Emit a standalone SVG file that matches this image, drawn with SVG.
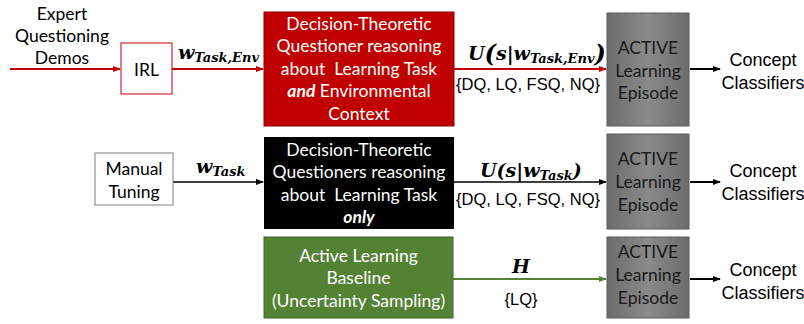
<svg xmlns="http://www.w3.org/2000/svg" width="804" height="324" viewBox="0 0 804 324">
<defs>
<marker id="ar" markerWidth="8" markerHeight="6" refX="7" refY="3" orient="auto" markerUnits="userSpaceOnUse"><path d="M0,0 L8,3 L0,6 z" fill="#c00000"/></marker>
<marker id="ak" markerWidth="8" markerHeight="6" refX="7" refY="3" orient="auto" markerUnits="userSpaceOnUse"><path d="M0,0 L8,3 L0,6 z" fill="#000"/></marker>
<marker id="ag" markerWidth="8" markerHeight="6" refX="7" refY="3" orient="auto" markerUnits="userSpaceOnUse"><path d="M0,0 L8,3 L0,6 z" fill="#548235"/></marker>
<linearGradient id="gg" x1="0" y1="0" x2="1" y2="0">
<stop offset="0" stop-color="#6c6c6c"/><stop offset="0.5" stop-color="#8a8a8a"/><stop offset="1" stop-color="#6c6c6c"/>
</linearGradient>
</defs>
<style>
.bt{font-family:Lato,"Open Sans",sans-serif;font-size:17.5px;fill:#fff;text-anchor:middle}
.gt{font-family:Lato,"Open Sans",sans-serif;font-size:17.5px;fill:#1a1a1a;text-anchor:middle}
.pt{font-family:Lato,"Open Sans",sans-serif;font-size:17.5px;fill:#000;text-anchor:middle}
.at{font-family:"Liberation Sans",Arial,sans-serif;font-size:18px;fill:#000;text-anchor:middle}
.st{font-family:"Liberation Sans",Arial,sans-serif;font-size:16.5px;fill:#000;text-anchor:middle}
.mt{font-family:"DejaVu Serif","Liberation Serif",serif;font-weight:bold;font-style:italic;fill:#000}
.gray{fill:url(#gg);stroke:#5a5a5a;stroke-width:1}
</style>

<g id="connectors" fill="none" stroke-width="2">
<line x1="10" y1="69" x2="120" y2="69" stroke="#c00000" marker-end="url(#ar)"/>
<line x1="172" y1="69" x2="263" y2="69" stroke="#c00000" marker-end="url(#ar)"/>
<line x1="454" y1="69" x2="606" y2="69" stroke="#c00000" marker-end="url(#ar)"/>
<line x1="690" y1="69" x2="720" y2="69" stroke="#000" marker-end="url(#ak)"/>
<line x1="173" y1="182" x2="263" y2="182" stroke="#000" stroke-width="1.5" marker-end="url(#ak)"/>
<line x1="454" y1="182" x2="606" y2="182" stroke="#000" stroke-width="1.5" marker-end="url(#ak)"/>
<line x1="690" y1="182" x2="720" y2="182" stroke="#000" marker-end="url(#ak)"/>
<line x1="453" y1="279" x2="606" y2="279" stroke="#548235" marker-end="url(#ag)"/>
<line x1="690" y1="279" x2="720" y2="279" stroke="#000" marker-end="url(#ak)"/>
</g>

<g id="edge-labels">
<text class="pt" x="62" y="20">Expert</text>
<text class="pt" x="62" y="42">Questioning</text>
<text class="pt" x="62" y="64">Demos</text>
<text class="mt" x="178" y="59" font-size="19">w<tspan font-size="13" dy="3">Task,Env</tspan></text>
<text class="mt" x="468" y="60" font-size="19">U<tspan font-size="24" dy="2">(</tspan><tspan dy="-2">s|w</tspan><tspan font-size="13" dy="3">Task,Env</tspan><tspan font-size="24" dy="-1">)</tspan></text>
<text class="st" x="528" y="90">{DQ, LQ, FSQ, NQ}</text>
<text class="mt" x="196" y="173" font-size="19">w<tspan font-size="13" dy="3">Task</tspan></text>
<text class="mt" x="480" y="177" font-size="19">U(s|w<tspan font-size="13" dy="3">Task</tspan><tspan dy="-3">)</tspan></text>
<text class="st" x="528" y="205">{DQ, LQ, FSQ, NQ}</text>
<text class="mt" x="521" y="273" font-size="19" text-anchor="middle">H</text>
<text class="st" x="521" y="305">{LQ}</text>
</g>

<g id="irl">
<rect x="121" y="43" width="51" height="51" fill="#fff" stroke="#c00000" stroke-width="1"/>
<text class="pt" x="146.5" y="76" font-size="20">IRL</text>
</g>

<g id="manual-tuning">
<rect x="95" y="153" width="78" height="52" fill="#fff" stroke="#7f7f7f" stroke-width="1"/>
<text class="pt" x="134" y="175" font-size="19">Manual</text>
<text class="pt" x="134" y="198" font-size="19">Tuning</text>
</g>

<g id="dtq-env">
<rect x="264" y="12" width="190" height="114" fill="#c00000" stroke="#8c0000" stroke-width="1"/>
<text class="bt" x="359" y="30">Decision-Theoretic</text>
<text class="bt" x="359" y="52">Questioner reasoning</text>
<text class="bt" x="359" y="75" xml:space="preserve">about  Learning Task</text>
<text class="bt" x="359" y="97"><tspan font-weight="bold" font-style="italic">and</tspan> Environmental</text>
<text class="bt" x="359" y="120">Context</text>
</g>

<g id="dtq-task">
<rect x="264" y="137" width="190" height="92" fill="#000"/>
<text class="bt" x="359" y="156">Decision-Theoretic</text>
<text class="bt" x="359" y="178">Questioners reasoning</text>
<text class="bt" x="359" y="201" xml:space="preserve">about  Learning Task</text>
<text class="bt" x="359" y="223" font-weight="bold" font-style="italic">only</text>
</g>

<g id="al-baseline">
<rect x="264" y="237" width="189" height="81" fill="#548235" stroke="#3f6328" stroke-width="1"/>
<text class="bt" x="358.5" y="262">Active Learning</text>
<text class="bt" x="358.5" y="284">Baseline</text>
<text class="bt" x="358.5" y="307">(Uncertainty Sampling)</text>
</g>

<g id="episode-1">
<rect class="gray" x="607" y="13" width="82" height="113"/>
<text class="gt" x="648" y="54">ACTIVE</text>
<text class="gt" x="648" y="77">Learning</text>
<text class="gt" x="648" y="99">Episode</text>
</g>

<g id="episode-2">
<rect class="gray" x="607" y="134" width="82" height="95"/>
<text class="gt" x="648" y="165">ACTIVE</text>
<text class="gt" x="648" y="188">Learning</text>
<text class="gt" x="648" y="211">Episode</text>
</g>

<g id="episode-3">
<rect class="gray" x="607" y="237" width="82" height="81"/>
<text class="gt" x="648" y="258">ACTIVE</text>
<text class="gt" x="648" y="281">Learning</text>
<text class="gt" x="648" y="304">Episode</text>
</g>

<g id="classifiers-1">
<text class="at" x="763" y="66">Concept</text>
<text class="at" x="763" y="89">Classifiers</text>
</g>
<g id="classifiers-2">
<text class="at" x="763" y="177">Concept</text>
<text class="at" x="763" y="200">Classifiers</text>
</g>
<g id="classifiers-3">
<text class="at" x="763" y="276">Concept</text>
<text class="at" x="763" y="299">Classifiers</text>
</g>
</svg>
